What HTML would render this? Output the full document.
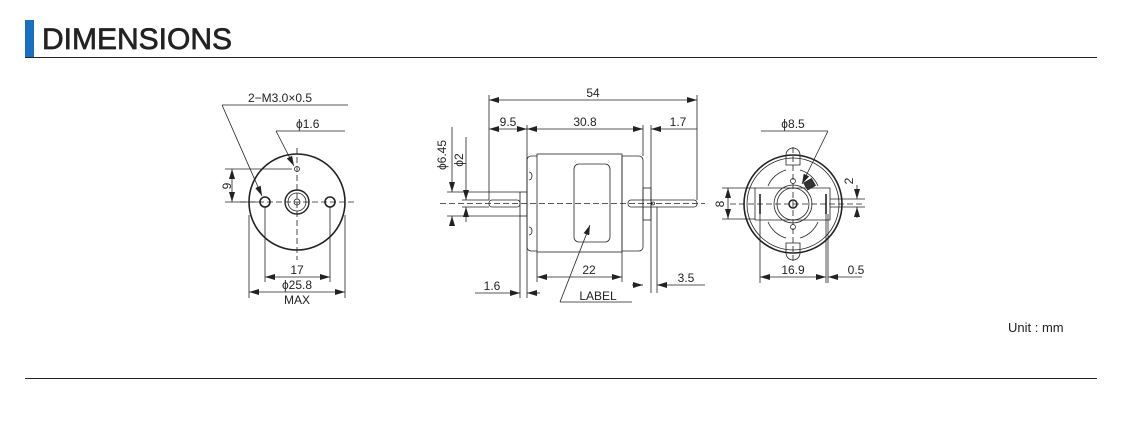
<!DOCTYPE html>
<html><head><style>
body{margin:0;background:#fff;width:1136px;height:423px;overflow:hidden}
svg{position:absolute;left:0;top:0}
text{font-family:"Liberation Sans",sans-serif;fill:#222}
</style></head><body>
<svg width="1136" height="423" viewBox="0 0 1136 423">
<defs>
<marker id="a" viewBox="0 0 10 6" refX="10" refY="3" markerWidth="10" markerHeight="6" orient="auto-start-reverse" markerUnits="userSpaceOnUse"><path d="M0,0L10,3L0,6z" fill="#222"/></marker>
</defs>
<rect x="25" y="20" width="9" height="37" fill="#1a6fc0"/>
<text x="42" y="49" font-size="30" stroke="#222" stroke-width="0.7">DIMENSIONS</text>
<line x1="25" y1="57.5" x2="1097" y2="57.5" stroke="#222" stroke-width="1"/>
<line x1="25" y1="378.5" x2="1097" y2="378.5" stroke="#222" stroke-width="1"/>
<text x="1008" y="332" font-size="13">Unit : mm</text>

<g stroke="#222" stroke-width="0.8" fill="none">
<!-- LEFT VIEW -->
<circle cx="297" cy="202" r="48" stroke-width="1.6"/>
<circle cx="297" cy="202" r="12" stroke-width="1.4"/>
<circle cx="297" cy="202" r="9"/>
<circle cx="297" cy="202" r="3"/>
<circle cx="265" cy="202" r="5" stroke-width="1.6"/>
<circle cx="330" cy="202" r="5" stroke-width="1.6"/>
<circle cx="297" cy="169" r="2.5"/>
<line x1="240" y1="202" x2="357" y2="202" stroke-dasharray="6,3"/>
<line x1="297" y1="148" x2="297" y2="260" stroke-dasharray="6,3"/>
<line x1="225" y1="169" x2="292" y2="169"/>
<line x1="225" y1="202" x2="258" y2="202"/>
<line x1="232" y1="169" x2="232" y2="202" marker-start="url(#a)" marker-end="url(#a)"/>
<line x1="265" y1="207" x2="265" y2="282"/>
<line x1="330" y1="207" x2="330" y2="282"/>
<line x1="265" y1="277" x2="330" y2="277" marker-start="url(#a)" marker-end="url(#a)"/>
<line x1="249" y1="215" x2="249" y2="298"/>
<line x1="345" y1="215" x2="345" y2="298"/>
<line x1="249" y1="292" x2="345" y2="292" marker-start="url(#a)" marker-end="url(#a)"/>
<line x1="222" y1="105" x2="348" y2="105"/>
<line x1="222" y1="105" x2="262" y2="196" marker-end="url(#a)"/>
<line x1="276" y1="131" x2="345" y2="131"/>
<line x1="276" y1="131" x2="294" y2="166" marker-end="url(#a)"/>

<!-- MIDDLE VIEW -->
<rect x="527" y="156" width="116" height="95" rx="4"/>
<rect x="537" y="154" width="85" height="98" fill="#fff"/>
<line x1="622" y1="156" x2="622" y2="251"/>
<rect x="574" y="164" width="36" height="78" rx="5"/>
<path d="M529,172 a3,4 0 0 1 0,8 M529,227 a3,4 0 0 1 0,8"/>
<rect x="520" y="192" width="7" height="24"/>
<rect x="489" y="200" width="31" height="7" rx="3"/>
<rect x="643" y="188" width="8" height="32"/>
<rect x="628" y="200" width="69" height="7" rx="3"/>
<circle cx="653" cy="203.5" r="1.5"/>
<line x1="440" y1="203.5" x2="705" y2="203.5" stroke-dasharray="6,3"/>
<line x1="489" y1="95" x2="489" y2="200"/>
<line x1="697" y1="95" x2="697" y2="200"/>
<line x1="489" y1="100" x2="697" y2="100" marker-start="url(#a)" marker-end="url(#a)"/>
<line x1="527" y1="125" x2="527" y2="298"/>
<line x1="643" y1="125" x2="643" y2="156"/>
<line x1="651" y1="125" x2="651" y2="293"/>
<line x1="489" y1="129" x2="527" y2="129" marker-start="url(#a)" marker-end="url(#a)"/>
<line x1="527" y1="129" x2="643" y2="129" marker-start="url(#a)" marker-end="url(#a)"/>
<line x1="651" y1="129" x2="697" y2="129" marker-start="url(#a)"/>
<line x1="447" y1="192" x2="520" y2="192"/>
<line x1="447" y1="216" x2="520" y2="216"/>
<line x1="462" y1="200" x2="489" y2="200"/>
<line x1="462" y1="207" x2="489" y2="207"/>
<line x1="452" y1="127" x2="452" y2="192" marker-end="url(#a)"/>
<line x1="452" y1="216" x2="452" y2="226" marker-start="url(#a)"/>
<line x1="466" y1="137" x2="466" y2="200" marker-end="url(#a)"/>
<line x1="466" y1="207" x2="466" y2="222" marker-start="url(#a)"/>
<line x1="520" y1="216" x2="520" y2="298"/>
<line x1="537" y1="252" x2="537" y2="282"/>
<line x1="622" y1="252" x2="622" y2="282"/>
<line x1="537" y1="277" x2="622" y2="277" marker-start="url(#a)" marker-end="url(#a)"/>
<line x1="475" y1="293" x2="520" y2="293" marker-end="url(#a)"/>
<line x1="540" y1="293" x2="527" y2="293" marker-end="url(#a)"/>
<line x1="657" y1="207" x2="657" y2="293"/>
<line x1="632" y1="285" x2="643" y2="285" marker-end="url(#a)"/>
<line x1="705" y1="285" x2="657" y2="285" marker-end="url(#a)"/>
<line x1="560" y1="302" x2="632" y2="302"/>
<line x1="560" y1="302" x2="590" y2="225" marker-end="url(#a)"/>

<!-- RIGHT VIEW -->
<circle cx="793" cy="204" r="49" stroke-width="1.6"/>
<circle cx="793" cy="204" r="46"/>
<path d="M755,188 L830,188 M755,220 L830,220 M755,188 L755,220 M830,188 L830,220"/>
<path d="M768,186 A28,28 0 0 1 786,170 M818,186 A28,28 0 0 0 800,170 M768,222 A28,28 0 0 0 786,238 M818,222 A28,28 0 0 1 800,238"/>
<circle cx="793" cy="204" r="19"/>
<circle cx="793" cy="204" r="16"/>
<circle cx="793" cy="204" r="4" stroke-width="1.5"/>
<circle cx="793" cy="181" r="2.5"/>
<circle cx="793" cy="227" r="2.5"/>
<path d="M786,155 v10 h14 v-10 a7,7 0 0 0 -14,0z M786,253 v-10 h14 v10 a7,7 0 0 1 -14,0z"/>
<rect x="805" y="180" width="9" height="8" fill="#333" transform="rotate(-30 810 184)"/>
<line x1="760" y1="194" x2="760" y2="214" stroke-width="1.6"/>
<line x1="826" y1="194" x2="826" y2="214" stroke-width="1.6"/>
<line x1="730" y1="204" x2="865" y2="204" stroke-dasharray="6,3"/>
<line x1="793" y1="147" x2="793" y2="262" stroke-dasharray="6,3"/>
<line x1="722" y1="188" x2="755" y2="188"/>
<line x1="722" y1="219" x2="755" y2="219"/>
<line x1="728" y1="188" x2="728" y2="219" marker-start="url(#a)" marker-end="url(#a)"/>
<line x1="830" y1="199" x2="865" y2="199"/>
<line x1="830" y1="207" x2="865" y2="207"/>
<line x1="857" y1="185" x2="857" y2="199" marker-end="url(#a)"/>
<line x1="857" y1="218" x2="857" y2="207" marker-end="url(#a)"/>
<line x1="760" y1="214" x2="760" y2="283"/>
<line x1="826" y1="214" x2="826" y2="283"/>
<line x1="828" y1="214" x2="828" y2="283"/>
<line x1="760" y1="277" x2="826" y2="277" marker-start="url(#a)" marker-end="url(#a)"/>
<line x1="862" y1="277" x2="828" y2="277" marker-end="url(#a)"/>
<line x1="761" y1="131" x2="828" y2="131"/>
<line x1="828" y1="131" x2="802" y2="184" marker-end="url(#a)"/>
</g>

<g font-size="12">
<text x="248" y="102">2−M3.0×0.5</text>
<text x="296" y="128">ϕ1.6</text>
<text x="227" y="186" transform="rotate(-90 227 186)" text-anchor="middle" dy="4">9</text>
<text x="297" y="274" text-anchor="middle">17</text>
<text x="297" y="289" text-anchor="middle">ϕ25.8</text>
<text x="297" y="304" text-anchor="middle">MAX</text>
<text x="593" y="97" text-anchor="middle">54</text>
<text x="508" y="126" text-anchor="middle">9.5</text>
<text x="585" y="126" text-anchor="middle">30.8</text>
<text x="678" y="126" text-anchor="middle">1.7</text>
<text x="446" y="155" transform="rotate(-90 446 155)" text-anchor="middle">ϕ6.45</text>
<text x="463" y="160" transform="rotate(-90 463 160)" text-anchor="middle">ϕ2</text>
<text x="589" y="274" text-anchor="middle">22</text>
<text x="492" y="290" text-anchor="middle">1.6</text>
<text x="686" y="282" text-anchor="middle">3.5</text>
<text x="598" y="300" text-anchor="middle">LABEL</text>
<text x="793" y="128" text-anchor="middle">ϕ8.5</text>
<text x="724" y="204" transform="rotate(-90 724 204)" text-anchor="middle">8</text>
<text x="853" y="181" transform="rotate(-90 853 181)" text-anchor="middle">2</text>
<text x="793" y="274" text-anchor="middle">16.9</text>
<text x="856" y="274" text-anchor="middle">0.5</text>
</g>
</svg>
</body></html>
